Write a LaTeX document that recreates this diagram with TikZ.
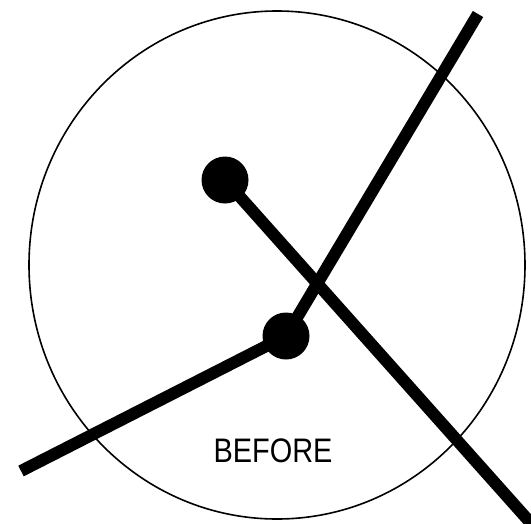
\documentclass[tikz,border=0pt]{standalone}
\usepackage{fontspec}
\setmainfont{Liberation Sans}
\usetikzlibrary{positioning}

\begin{document}
\begin{tikzpicture}[x=1pt, y=-1pt]

\tikzset{
rod/.style={line width=12pt, black},
knob/.style={circle, fill=black, inner sep=0pt, minimum size=47pt},
rim/.style={line width=1.6pt, black}
}

\useasboundingbox (0,0) rectangle (531,523);
\clip (0,0) rectangle (531,523);

% reference circle
\draw[rim] (277,265) ellipse [x radius=248, y radius=254];

% pivots
\node[knob] (upper) at (225,180) {};
\node[knob] (lower) at (286,336) {};

% free ends
\coordinate (tail) at (21,471);
\coordinate (tip) at (478,14);
\coordinate (foot) at (545,539);

\draw[rod] (tail) -- (lower.center);
\draw[rod] (lower.center) -- (tip);
\draw[rod] (upper.center) -- (foot);

\node[font=\fontsize{34}{34}\selectfont, xscale=0.85] (caption) at (273,451) {BEFORE};

\end{tikzpicture}
\end{document}
